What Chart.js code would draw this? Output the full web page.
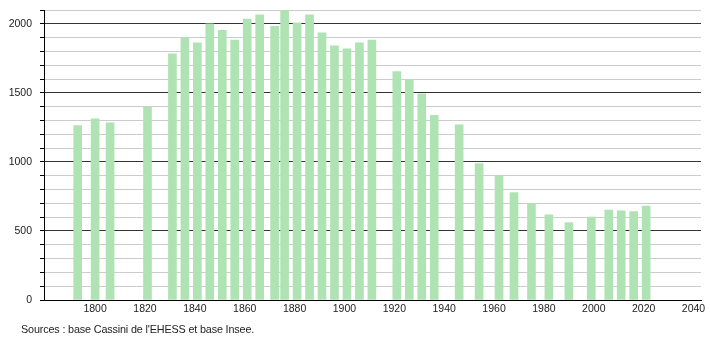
<!DOCTYPE html>
<html>
<head>
<meta charset="utf-8">
<script src="https://cdn.jsdelivr.net/npm/chart.js@4"></script>
<style>
  html, body { margin: 0; padding: 0; background: #fff; }
  #wrap { position: relative; width: 710px; height: 340px; }
  #source {
    position: absolute; left: 21px; top: 323px;
    font: 10.8px "Liberation Sans", Arial, sans-serif; color: #222;
    letter-spacing: -0.15px;
  }
</style>
</head>
<body>
<div id="wrap">
  <canvas id="chart" width="710" height="340"></canvas>
  <div id="source">Sources : base Cassini de l'EHESS et base Insee.</div>
</div>
<script>
const years = [1793, 1800, 1806, 1821, 1831, 1836, 1841, 1846, 1851, 1856,
  1861, 1866, 1872, 1876, 1881, 1886, 1891, 1896, 1901, 1906, 1911,
  1921, 1926, 1931, 1936, 1946, 1954, 1962, 1968, 1975, 1982, 1990,
  1999, 2006, 2011, 2016, 2021];

const population = [1263, 1312, 1283, 1396, 1783, 1896, 1862, 2000, 1952, 1882,
  2034, 2065, 1981, 2100, 2007, 2065, 1935, 1841, 1819, 1862, 1882,
  1654, 1594, 1493, 1338, 1268, 988, 899, 778, 696, 616, 560,
  601, 652, 645, 640, 681];

const xTicks = [1800, 1820, 1840, 1860, 1880, 1900, 1920, 1940, 1960, 1980, 2000, 2020, 2040];

const labelFont = { family: "Liberation Sans, Arial, sans-serif", size: 10.5 };

new Chart("chart", {
  type: "bar",
  data: {
    datasets: [{
      data: years.map((y, i) => ({ x: y, y: population[i] })),
      backgroundColor: "#b0e3b3",
      borderWidth: 0,
      barThickness: 8
    }]
  },
  options: {
    responsive: false,
    animation: false,
    layout: { padding: { top: 10, right: 9, left: 0, bottom: 0 } },
    plugins: { legend: { display: false }, tooltip: { enabled: false } },
    scales: {
      x: {
        type: "linear",
        offset: false,
        min: 1779.5,
        max: 2043,
        afterBuildTicks: scale => { scale.ticks = xTicks.map(v => ({ value: v })); },
        afterFit: scale => { scale.height = 40; scale.paddingLeft = 0; scale.paddingRight = 0; },
        grid: { display: false, drawTicks: false, offset: false },
        border: { display: true, color: "#000", width: 1 },
        ticks: {
          font: labelFont, color: "#222", padding: 3, maxRotation: 0, autoSkip: false,
          callback: v => String(v)
        }
      },
      y: {
        min: 0,
        max: 2100,
        afterFit: scale => { scale.width = 44; scale.paddingTop = 0; scale.paddingBottom = 0; },
        grid: {
          color: c => c.tick.value % 500 === 0 ? "#333" : "#ccc",
          tickColor: "#000",
          tickLength: 4
        },
        border: { display: true, color: "#000", width: 1 },
        ticks: {
          stepSize: 100,
          font: labelFont,
          color: "#222",
          padding: 8,
          autoSkip: false,
          callback: v => v % 500 === 0 ? String(v) : ""
        }
      }
    }
  }
});
</script>
</body>
</html>
